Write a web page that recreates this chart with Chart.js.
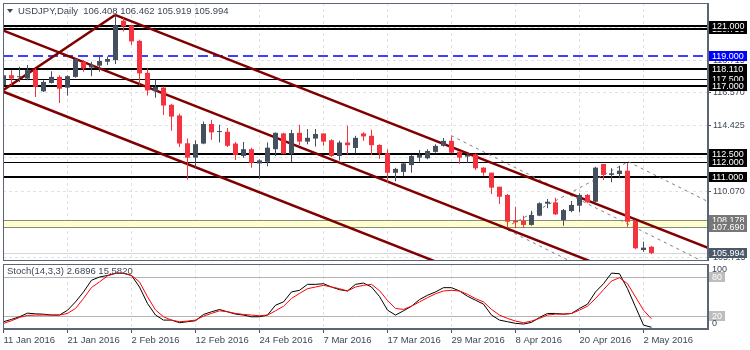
<!DOCTYPE html>
<html>
<head>
<meta charset="utf-8">
<script src="https://cdn.jsdelivr.net/npm/chart.js@4.4.1/dist/chart.umd.min.js"></script>
<style>
  html, body { margin: 0; padding: 0; background: #fff; }
  #wrap { position: relative; width: 750px; height: 350px; overflow: hidden; background: #fff; }
  #main { position: absolute; left: 0; top: 0; }
  #stoch { position: absolute; left: 0; top: 262px; }
</style>
</head>
<body>
<div id="wrap">
  <canvas id="main" width="750" height="262" style="width:750px;height:262px"></canvas>
  <canvas id="stoch" width="750" height="88" style="width:750px;height:88px"></canvas>
</div>
<script>
// trading days shown on the chart
const dates = [
  '11 Jan 2016','12 Jan 2016','13 Jan 2016','14 Jan 2016','15 Jan 2016',
  '18 Jan 2016','19 Jan 2016','20 Jan 2016','21 Jan 2016','22 Jan 2016',
  '25 Jan 2016','26 Jan 2016','27 Jan 2016','28 Jan 2016','29 Jan 2016',
  '1 Feb 2016','2 Feb 2016','3 Feb 2016','4 Feb 2016','5 Feb 2016',
  '8 Feb 2016','9 Feb 2016','10 Feb 2016','11 Feb 2016','12 Feb 2016',
  '15 Feb 2016','16 Feb 2016','17 Feb 2016','18 Feb 2016','19 Feb 2016',
  '22 Feb 2016','23 Feb 2016','24 Feb 2016','25 Feb 2016','26 Feb 2016',
  '29 Feb 2016','1 Mar 2016','2 Mar 2016','3 Mar 2016','4 Mar 2016',
  '7 Mar 2016','8 Mar 2016','9 Mar 2016','10 Mar 2016','11 Mar 2016',
  '14 Mar 2016','15 Mar 2016','16 Mar 2016','17 Mar 2016','18 Mar 2016',
  '21 Mar 2016','22 Mar 2016','23 Mar 2016','24 Mar 2016','25 Mar 2016',
  '28 Mar 2016','29 Mar 2016','30 Mar 2016','31 Mar 2016','1 Apr 2016',
  '4 Apr 2016','5 Apr 2016','6 Apr 2016','7 Apr 2016','8 Apr 2016',
  '11 Apr 2016','12 Apr 2016','13 Apr 2016','14 Apr 2016','15 Apr 2016',
  '18 Apr 2016','19 Apr 2016','20 Apr 2016','21 Apr 2016','22 Apr 2016',
  '25 Apr 2016','26 Apr 2016','27 Apr 2016','28 Apr 2016','29 Apr 2016',
  '2 May 2016','3 May 2016'
];

const open = [
  117.07,117.73,117.60,117.51,118.07,116.67,117.22,117.62,116.91,117.62,
  118.62,118.24,118.36,118.62,118.73,121.33,121.02,120.00,117.89,116.67,
  116.91,115.78,115.07,113.24,112.29,113.22,114.51,113.98,114.00,113.22,
  112.40,112.85,111.91,112.02,112.85,113.89,112.55,113.93,113.35,113.55,
  113.89,113.44,112.40,113.29,112.93,113.89,113.73,113.13,112.58,111.29,
  111.35,111.80,112.29,112.25,112.67,113.07,113.40,112.69,112.36,112.51,
  111.63,111.30,110.37,109.83,108.13,108.11,107.85,108.46,109.25,109.34,
  108.17,108.77,109.12,109.83,109.38,111.87,111.15,111.21,111.43,108.11,
  106.19,106.408
];
const high = [
  117.90,118.07,118.29,118.40,118.18,117.40,118.00,117.73,117.73,118.89,
  118.73,118.62,119.07,118.96,121.69,121.51,121.07,120.07,118.18,117.44,
  117.00,115.84,115.18,113.56,113.44,114.67,114.80,114.47,114.24,113.33,
  113.33,112.95,112.18,113.29,113.95,113.93,114.13,114.47,114.18,114.18,
  113.89,113.51,113.40,114.40,113.73,113.96,114.13,113.18,112.85,111.62,
  111.95,112.47,112.80,112.85,113.18,113.58,113.69,112.73,112.58,112.56,
  111.66,111.30,110.37,109.89,109.05,108.46,108.79,109.34,109.56,109.65,
  108.90,109.43,109.94,109.89,111.69,111.87,111.59,111.76,111.92,108.17,
  106.74,106.462
];
const low = [
  116.95,117.07,117.29,117.40,116.29,116.62,117.18,115.89,116.40,117.56,
  117.96,117.67,117.96,118.40,118.47,120.62,119.73,117.07,116.40,116.24,
  115.11,114.07,113.00,110.85,111.58,113.18,113.47,113.29,113.00,112.13,
  112.29,111.62,110.89,111.73,112.40,112.51,112.00,113.13,113.18,113.02,
  113.07,112.33,112.11,112.51,112.58,113.40,112.47,112.22,110.62,110.73,
  111.07,111.29,112.02,112.18,112.62,113.02,112.58,111.89,111.95,111.48,
  111.10,109.89,109.23,107.67,107.63,107.67,107.80,108.42,108.95,108.51,
  107.80,108.68,108.68,109.28,109.34,110.82,110.66,110.93,107.73,106.24,
  106.08,105.919
];
const close = [
  117.73,117.51,117.62,118.07,116.96,117.29,117.62,116.84,117.67,118.80,
  118.18,118.40,118.67,118.80,121.02,120.95,119.96,117.85,116.73,116.96,
  115.73,115.00,113.22,112.29,113.18,114.51,113.96,114.02,113.07,112.47,
  112.85,111.95,112.11,112.95,113.93,112.55,113.91,113.35,113.60,113.85,
  113.35,112.40,113.29,113.11,113.60,113.69,113.11,112.58,111.29,111.55,
  111.91,112.40,112.47,112.73,113.07,113.40,112.62,112.29,112.47,111.59,
  111.30,110.31,109.71,108.06,108.02,107.85,108.51,109.28,109.38,108.55,
  108.83,109.17,109.83,109.34,111.63,111.15,111.26,111.43,108.06,106.31,
  106.35,105.994
];

// Stochastic (14,3,3): main line and signal line
const stochK = [
  11.2,14.8,18.8,24.4,23.3,22.8,21.5,21.5,28.8,41.7,
  57,75,80,82.4,86,86,82.4,64.6,39.2,21.5,
  13.7,13.7,9.7,11.2,12.7,22.4,26.5,30,26.5,22.9,
  21.4,18.8,18.8,21.4,36.6,41.7,57,59.5,68.7,68.7,
  69.7,64.6,60.5,58.5,68.7,70.7,64.6,50,29,21.4,
  28,35,45.3,51.9,57,63.6,63.6,58.5,50.4,44.3,
  38.2,21.4,13.7,11.2,8.7,7.6,10.2,17.8,23.9,23.9,
  22.9,23.9,31.6,38.2,57,69.7,86,85,62,34,
  6,2.6896
];
const stochD = [
  8.7,12.7,17.8,20.9,21.4,21.4,21.4,21.4,24,31.6,
  47,63.8,72.5,81.7,85.5,85.5,82.4,72.5,49.6,29.3,
  18.8,13.7,11.2,12.2,13.7,19.8,24,28,26.5,24,
  22.4,21.4,20.4,21.4,28,35,47,54.7,62,64.6,
  67.2,64.6,62,58.5,64.6,67.2,68.7,59,44,31.6,
  30.1,35.1,41.7,48.2,54.2,58.5,59.5,58.5,53.4,46.8,
  41.7,30.1,21.4,16.3,12.2,9.7,12.2,16.3,21.4,22.9,
  22.9,23.9,29,35.1,46.8,60.5,73.8,78.9,69.7,49.3,
  29,15.582
];

const priceTicks = [120.860, 118.715, 116.570, 114.425, 112.280, 110.070, 107.925, 105.715];
const levels = [120.750, 121.000, 119.000, 118.110, 117.500, 117.000, 112.500, 112.000, 111.000];
const zone = [108.178, 107.690];
const lastPrice = 105.994;
const stochLevels = [80, 20];

// drawn objects, in (bar index, price)
const channelUpper = [[13.94, 121.71], [88.06, 106.33]];
const channelMid = [[0, 120.67], [88.06, 102.40]];
const channelLower = [[0, 116.64], [88.06, 98.37]];
const riseLeg = [[0, 116.76], [13.94, 121.71]];
const dotUpper = [[55.94, 113.75], [88.06, 105.27]];
const dotLower = [[63.06, 107.51], [88.06, 100.91]];
const dotRise = [[63.56, 107.91], [78.1, 112.02]];
const dotFall = [[78.1, 112.02], [88.06, 109.39]];

const headerText = 'USDJPY,Daily  106.408 106.462 105.919 105.994';
const stochText = 'Stoch(14,3,3) 2.6896 15.5820';

// look
const UP = '#45505f', DOWN = '#f5333f';
const TEXT = '#3d4756', FRAME = '#5b6573', GRID = '#e1e1e1';
const FONT = 'Liberation Sans, Arial, sans-serif';
const xMin = -0.0625, xMax = 88.0625;
const levelKind = ['thick', 'thick', 'dash', 'thick', 'thin', 'thick', 'thick', 'thin', 'thick'];
const levelLook = {
  thick: { w: 2, c: '#000000', dash: [] },
  thin: { w: 1, c: '#000000', dash: [] },
  dash: { w: 1.5, c: '#0000ff', dash: [10, 5] }
};

Chart.defaults.font.family = FONT;
Chart.defaults.font.size = 9;
Chart.defaults.color = TEXT;

const tickIdx = dates.map((d, i) => i).filter(i => i % 8 === 0);
const candleColor = close.map((c, i) => (c >= open[i] ? UP : DOWN));

function segment(pts, color, width, dash) {
  return {
    type: 'line',
    data: pts.map(p => ({ x: p[0], y: p[1] })),
    borderColor: color,
    borderWidth: width,
    borderDash: dash,
    pointRadius: 0,
    tension: 0,
    clip: 0,
    order: 5
  };
}

const mainDecor = {
  id: 'mainDecor',
  beforeDatasetsDraw(chart) {
    const { ctx, chartArea: a, scales: { y } } = chart;
    ctx.save();
    ctx.beginPath();
    ctx.rect(a.left, a.top, a.right - a.left, a.bottom - a.top);
    ctx.clip();
    const z1 = Math.round(y.getPixelForValue(zone[0]));
    const z2 = Math.round(y.getPixelForValue(zone[1]));
    ctx.fillStyle = '#ffffcc';
    ctx.fillRect(a.left, z1, a.right - a.left, z2 - z1);
    ctx.strokeStyle = '#8a8a8a';
    ctx.lineWidth = 1;
    [z1, z2].forEach(p => {
      ctx.beginPath(); ctx.moveTo(a.left, p + 0.5); ctx.lineTo(a.right, p + 0.5); ctx.stroke();
    });
    const lp = Math.round(y.getPixelForValue(lastPrice)) + 0.5;
    ctx.strokeStyle = '#d3d7dd';
    ctx.beginPath(); ctx.moveTo(a.left, lp); ctx.lineTo(a.right, lp); ctx.stroke();
    levels.forEach((v, k) => {
      const s = levelLook[levelKind[k]];
      let p = Math.round(y.getPixelForValue(v));
      if (s.w % 2 === 1) p += 0.5;
      ctx.strokeStyle = s.c;
      ctx.lineWidth = s.w;
      ctx.setLineDash(s.dash);
      ctx.beginPath(); ctx.moveTo(a.left, p); ctx.lineTo(a.right, p); ctx.stroke();
    });
    ctx.restore();
  },
  afterDraw(chart) {
    const { ctx, chartArea: a, scales: { y } } = chart;
    ctx.save();
    ctx.strokeStyle = FRAME;
    ctx.lineWidth = 1;
    ctx.strokeRect(a.left + 0.5, a.top + 0.5, a.right - a.left - 1, a.bottom - a.top);
    // header
    ctx.fillStyle = TEXT;
    ctx.beginPath(); ctx.moveTo(7, 9); ctx.lineTo(13, 9); ctx.lineTo(10, 13); ctx.closePath(); ctx.fill();
    ctx.font = '9.5px ' + FONT;
    ctx.textBaseline = 'middle';
    ctx.fillText(headerText, 18, 11);
    // price boxes on the right axis
    const boxes = levels.map((v, k) => ({ v, bg: levelKind[k] === 'dash' ? '#0000ff' : '#000000' }))
      .concat(zone.map(v => ({ v, bg: '#777777' })))
      .concat([{ v: lastPrice, bg: '#4b5869' }]);
    ctx.font = '9px ' + FONT;
    boxes.forEach(b => {
      const p = Math.round(y.getPixelForValue(b.v));
      ctx.fillStyle = b.bg;
      ctx.fillRect(a.right + 1, p - 5, 38, 10);
      ctx.fillStyle = '#ffffff';
      ctx.fillText(b.v.toFixed(3), a.right + 4, p + 0.5);
    });
    ctx.restore();
  }
};

new Chart(document.getElementById('main'), {
  type: 'bar',
  data: {
    datasets: [
      {
        data: dates.map((d, i) => ({ x: i, y: [low[i], high[i]] })),
        backgroundColor: candleColor,
        barThickness: 1,
        grouped: false,
        inflateAmount: 0,
        minBarLength: 1,
        order: 1
      },
      {
        data: dates.map((d, i) => ({ x: i, y: [open[i], close[i]] })),
        backgroundColor: candleColor,
        barThickness: 5,
        grouped: false,
        inflateAmount: 0,
        minBarLength: 1,
        order: 0
      },
      segment(channelUpper, '#800000', 2.5, []),
      segment(channelMid, '#800000', 2.5, []),
      segment(channelLower, '#800000', 2.5, []),
      segment(riseLeg, '#800000', 2.5, []),
      segment(dotUpper, '#7d7d7d', 1, [3, 4]),
      segment(dotLower, '#7d7d7d', 1, [3, 4]),
      segment(dotRise, '#7d7d7d', 1, [3, 4]),
      segment(dotFall, '#7d7d7d', 1, [3, 4])
    ]
  },
  options: {
    responsive: false,
    maintainAspectRatio: false,
    animation: false,
    events: [],
    layout: { padding: { left: 3, top: 3, right: 0, bottom: 2 } },
    plugins: { legend: { display: false }, tooltip: { enabled: false } },
    scales: {
      x: {
        type: 'linear',
        offset: false,
        min: xMin,
        max: xMax,
        afterBuildTicks: s => { s.ticks = tickIdx.map(v => ({ value: v })); },
        afterFit: s => { s.height = 0; s.paddingLeft = 0; s.paddingRight = 0; },
        ticks: { display: false },
        grid: { color: GRID, drawTicks: false, offset: false },
        border: { display: true, color: FRAME, dash: [3, 3] }
      },
      y: {
        position: 'right',
        min: 105.535,
        max: 122.498,
        afterBuildTicks: s => { s.ticks = priceTicks.map(v => ({ value: v })); },
        afterFit: s => { s.width = 42; s.paddingTop = 0; s.paddingBottom = 0; },
        ticks: { autoSkip: false, padding: 2, color: TEXT, callback: v => v.toFixed(3) },
        grid: { color: GRID, drawTicks: true, tickLength: 3, tickColor: '#555555', tickBorderDash: [] },
        border: { display: true, color: FRAME, dash: [3, 3] }
      }
    }
  },
  plugins: [mainDecor]
});

const stochDecor = {
  id: 'stochDecor',
  beforeDatasetsDraw(chart) {
    const { ctx, chartArea: a, scales: { y } } = chart;
    ctx.save();
    ctx.strokeStyle = '#b3b3b3';
    ctx.lineWidth = 1;
    stochLevels.forEach(v => {
      const p = Math.round(y.getPixelForValue(v)) + 0.5;
      ctx.beginPath(); ctx.moveTo(a.left, p); ctx.lineTo(a.right, p); ctx.stroke();
    });
    ctx.restore();
  },
  afterDraw(chart) {
    const { ctx, chartArea: a, scales: { y } } = chart;
    ctx.save();
    ctx.strokeStyle = FRAME;
    ctx.lineWidth = 1;
    ctx.strokeRect(a.left + 0.5, a.top + 0.5, a.right - a.left - 1, a.bottom - a.top - 1);
    ctx.font = '9.5px ' + FONT;
    ctx.textBaseline = 'middle';
    ctx.fillStyle = TEXT;
    ctx.fillText(stochText, 7, 9);
    ctx.font = '9px ' + FONT;
    ctx.fillText('100', a.right + 4, Math.round(y.getPixelForValue(100)) + 6);
    stochLevels.forEach(v => {
      const p = Math.round(y.getPixelForValue(v));
      const w = ctx.measureText(String(v)).width;
      ctx.fillStyle = '#bdbdbd';
      ctx.fillRect(a.right + 1, p - 5, w + 6, 10);
      ctx.fillStyle = '#ffffff';
      ctx.fillText(String(v), a.right + 4, p + 0.5);
    });
    ctx.fillStyle = TEXT;
    ctx.fillText('0', a.right + 4, Math.round(y.getPixelForValue(0)) - 5);
    ctx.restore();
  }
};

new Chart(document.getElementById('stoch'), {
  type: 'line',
  data: {
    datasets: [
      {
        data: stochD.map((v, i) => ({ x: i, y: v })),
        borderColor: '#ff0000',
        borderWidth: 1,
        pointRadius: 0,
        tension: 0
      },
      {
        data: stochK.map((v, i) => ({ x: i, y: v })),
        borderColor: '#000000',
        borderWidth: 1,
        pointRadius: 0,
        tension: 0
      }
    ]
  },
  options: {
    responsive: false,
    maintainAspectRatio: false,
    animation: false,
    events: [],
    layout: { padding: { left: 3, top: 2, right: 0, bottom: 0 } },
    plugins: { legend: { display: false }, tooltip: { enabled: false } },
    scales: {
      x: {
        type: 'linear',
        offset: false,
        min: xMin,
        max: xMax,
        afterBuildTicks: s => { s.ticks = tickIdx.map(v => ({ value: v })); },
        afterFit: s => { s.height = 21; s.paddingLeft = 0; s.paddingRight = 0; },
        ticks: {
          align: 'start', maxRotation: 0, autoSkip: false, padding: 2, color: TEXT,
          font: { size: 9.5 },
          callback: v => dates[v]
        },
        grid: { color: GRID, drawTicks: true, tickLength: 4, tickColor: '#555555', tickBorderDash: [] },
        border: { display: true, color: FRAME, dash: [3, 3] }
      },
      y: {
        position: 'right',
        min: 0,
        max: 100,
        afterFit: s => { s.width = 42; s.paddingTop = 0; s.paddingBottom = 0; },
        ticks: { display: false },
        grid: { display: false },
        border: { display: true, color: FRAME }
      }
    }
  },
  plugins: [stochDecor]
});
</script>
</body>
</html>
